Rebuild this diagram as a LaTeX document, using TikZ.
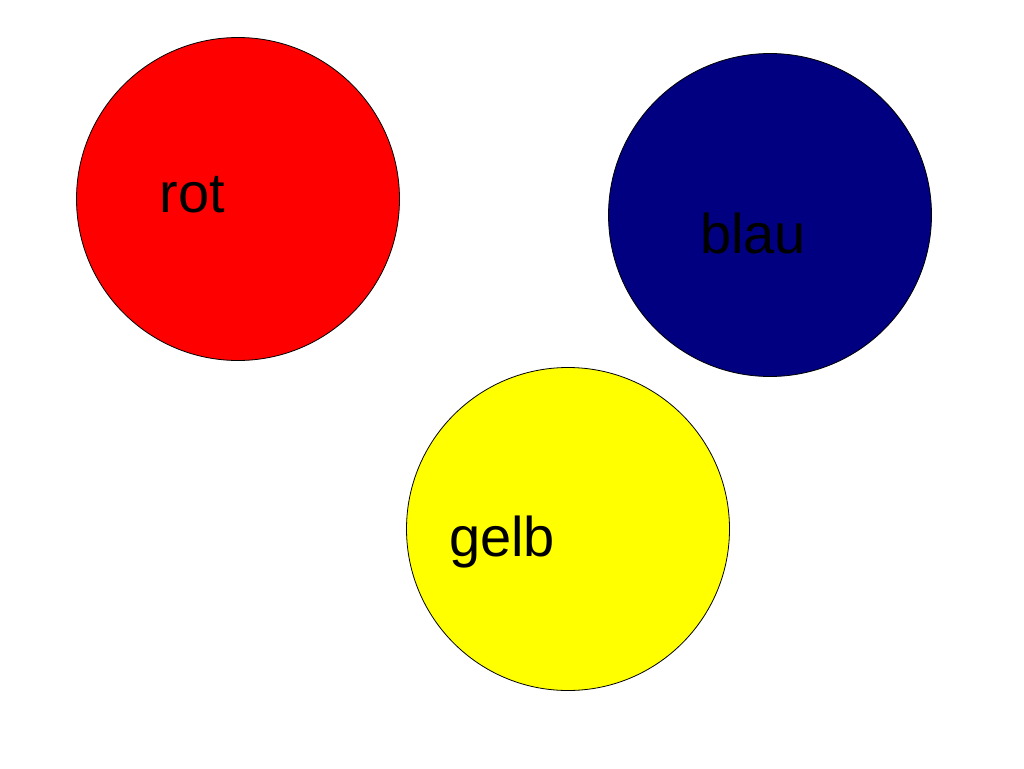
\documentclass[tikz,border=0pt]{standalone}
\usepackage{fontspec}
\setmainfont{Liberation Sans}
\definecolor{cred}{RGB}{255,0,0}
\definecolor{cblue}{RGB}{0,0,128}
\definecolor{cyellow}{RGB}{255,255,0}
\begin{document}
\begin{tikzpicture}[x=1pt,y=-1pt,
  disc/.style={circle,draw=black,line width=0.8pt,minimum size=323pt,inner sep=0pt},
  lbl/.style={anchor=base,inner sep=0pt,font=\fontsize{56}{62}\selectfont}]
\useasboundingbox (0,0) rectangle (1024,768);
\node[disc,fill=cred] (red) at (238,199) {};
\node[disc,fill=cblue] (blue) at (770,215) {};
\node[disc,fill=cyellow] (yellow) at (568,529) {};
\node[lbl] (rot) at (192.5,212) {rot};
\node[lbl] (blau) at (753,253) {blau};
\node[lbl] (gelb) at (502,556) {gelb};
\end{tikzpicture}
\end{document}
